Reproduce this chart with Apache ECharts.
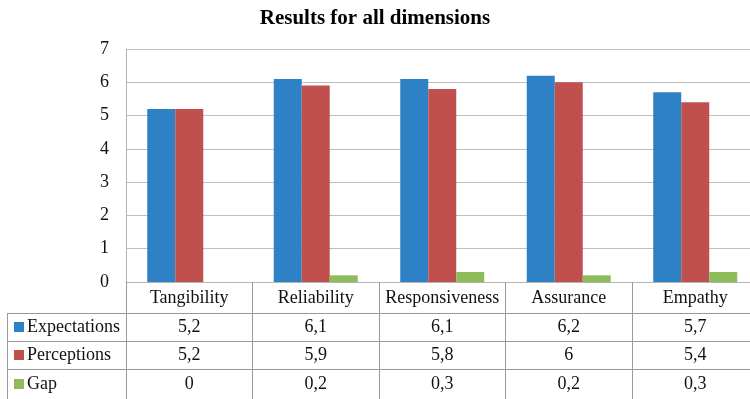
<!DOCTYPE html>
<html>
<head>
<meta charset="utf-8">
<script src="https://cdn.jsdelivr.net/npm/echarts@6/dist/echarts.min.js"></script>
<style>
  html, body { margin: 0; padding: 0; background: #fff; }
  #chart { width: 750px; height: 399px; }
</style>
</head>
<body>
<div id="chart"></div>
<script>
// Service quality dimensions and their scores
const dimensions = ['Tangibility', 'Reliability', 'Responsiveness', 'Assurance', 'Empathy'];
const seriesNames = ['Expectations', 'Perceptions', 'Gap'];
const expectations = [5.2, 6.1, 6.1, 6.2, 5.7];
const perceptions = [5.2, 5.9, 5.8, 6.0, 5.4];
const gap = [0, 0.2, 0.3, 0.2, 0.3];
const yTicks = { min: 0, max: 7, step: 1 };

const colors = ['#2e81c4', '#c0504e', '#8cbd5a'];
const serif = 'Liberation Serif';
const tableLine = '#9a9a9a';

// Decimal comma, as in the data table
const fmt = v => String(v).replace('.', ',');

const chart = echarts.init(document.getElementById('chart'));

const plotTop = 49, plotBottom = 282, rowH = [313, 341, 369, 399];
const valueRows = [expectations, perceptions, gap];

// One label-only category axis per table row
const tableAxes = valueRows.map((vals, i) => ({
  type: 'category',
  gridIndex: 0,
  position: 'bottom',
  offset: [29, 57, 86][i],
  data: vals.map(fmt),
  axisLine: { show: false },
  axisTick: { show: false },
  splitLine: { show: false },
  axisLabel: { margin: 7, fontSize: 18, fontFamily: serif, color: '#111', interval: 0 }
}));

// Row headers: colour key plus series name
const rowHeaders = [];
seriesNames.forEach((name, i) => {
  const cy = (rowH[i] + rowH[i + 1]) / 2;
  rowHeaders.push({
    type: 'rect', shape: { x: 14, y: cy - 5, width: 10, height: 10 },
    style: { fill: colors[i] }, silent: true
  });
  rowHeaders.push({
    type: 'text', x: 27, y: cy,
    style: { text: name, fontFamily: serif, fontSize: 18, fill: '#111', verticalAlign: 'middle' },
    silent: true
  });
});

// Table rules
const rules = [];
[rowH[0], rowH[1], rowH[2]].forEach(y => {
  rules.push({ type: 'line', shape: { x1: 7, y1: y + 0.5, x2: 750, y2: y + 0.5 }, style: { stroke: tableLine, lineWidth: 1 }, silent: true });
});
rules.push({ type: 'line', shape: { x1: 7.5, y1: rowH[0], x2: 7.5, y2: 399 }, style: { stroke: tableLine, lineWidth: 1 }, silent: true });

chart.setOption({
  animation: false,
  backgroundColor: '#fff',
  title: {
    text: 'Results for all dimensions',
    left: 'center',
    top: 3,
    textStyle: { fontFamily: serif, fontSize: 21, fontWeight: 'bold', color: '#000' }
  },
  grid: { left: 126, right: -8.5, top: plotTop, bottom: 399 - plotBottom, containLabel: false, outerBoundsMode: 'none' },
  xAxis: [{
    type: 'category',
    data: dimensions,
    boundaryGap: true,
    axisLine: { show: true, lineStyle: { color: '#b5b5b5', width: 1 } },
    axisTick: { show: true, interval: 0, length: 399 - plotBottom, lineStyle: { color: tableLine, width: 1 } },
    axisLabel: { margin: 7, fontSize: 18, fontFamily: serif, color: '#111', interval: 0 },
    splitLine: { show: false }
  }].concat(tableAxes),
  yAxis: {
    type: 'value',
    min: yTicks.min, max: yTicks.max, interval: yTicks.step,
    axisLine: { show: true, lineStyle: { color: '#b5b5b5', width: 1 } },
    axisTick: { show: false },
    axisLabel: { margin: 17, fontSize: 18, fontFamily: serif, color: '#111' },
    splitLine: { show: true, lineStyle: { color: '#bdbdbd', width: 1.2 } }
  },
  series: [expectations, perceptions, gap].map((vals, i) => ({
    name: seriesNames[i],
    type: 'bar',
    xAxisIndex: 0,
    data: vals,
    barWidth: 28,
    barGap: '0%',
    itemStyle: { color: colors[i] }
  })),
  graphic: rules.concat(rowHeaders)
});
</script>
</body>
</html>
